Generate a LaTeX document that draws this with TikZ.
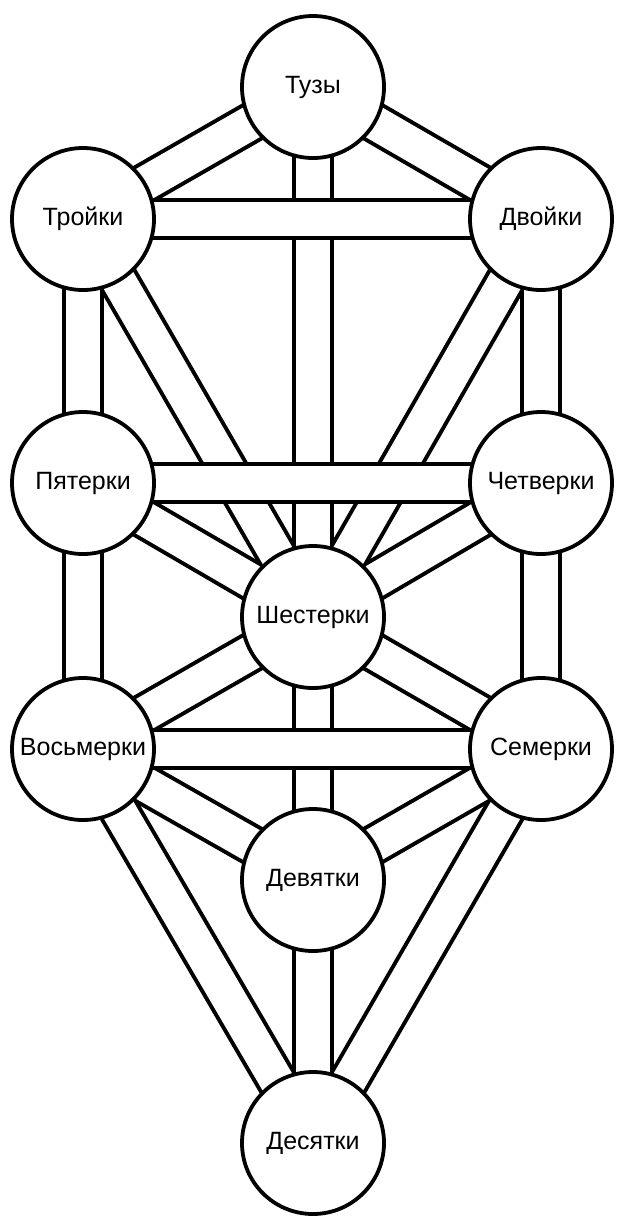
\documentclass[tikz,border=0pt]{standalone}
\usepackage{fontspec}
\setmainfont{Liberation Sans}
\usetikzlibrary{backgrounds}
\begin{document}
\begin{tikzpicture}[x=1pt,y=-1pt,
  sefira/.style={circle,draw,line width=3.8pt,fill=white,minimum size=142pt,inner sep=0pt,font=\fontsize{25}{29}\selectfont},
  bandout/.style={line width=42pt,black},
  bandin/.style={line width=34pt,white}]
\useasboundingbox (0,0) rectangle (617,1219);
\node[sefira] (A) at (313,87) {Тузы};
\node[sefira] (B) at (541,219) {Двойки};
\node[sefira] (C) at (83,219) {Тройки};
\node[sefira] (D) at (541,483) {Четверки};
\node[sefira] (E) at (83,483) {Пятерки};
\node[sefira] (F) at (313,617) {Шестерки};
\node[sefira] (G) at (541,749) {Семерки};
\node[sefira] (H) at (83,749) {Восьмерки};
\node[sefira] (I) at (313,880) {Девятки};
\node[sefira] (J) at (313,1143) {Десятки};
\begin{scope}[on background layer]
  \foreach \a/\b in {A/C,A/B,A/F,C/E,C/F,B/D,B/F,E/F,E/H,D/F,D/G,F/H,F/G,F/I,H/I,G/I,H/J,G/J,I/J}
    \draw[bandout] (\a.center) -- (\b.center);
  \foreach \a/\b in {A/C,A/B,A/F,C/E,C/F,B/D,B/F,E/F,E/H,D/F,D/G,F/H,F/G,F/I,H/I,G/I,H/J,G/J,I/J}
    \draw[bandin] (\a.center) -- (\b.center);
  \foreach \a/\b in {C/B,E/D,H/G}{
    \draw[bandout] (\a.center) -- (\b.center);
    \draw[bandin] (\a.center) -- (\b.center);
  }
\end{scope}
\end{tikzpicture}
\end{document}
